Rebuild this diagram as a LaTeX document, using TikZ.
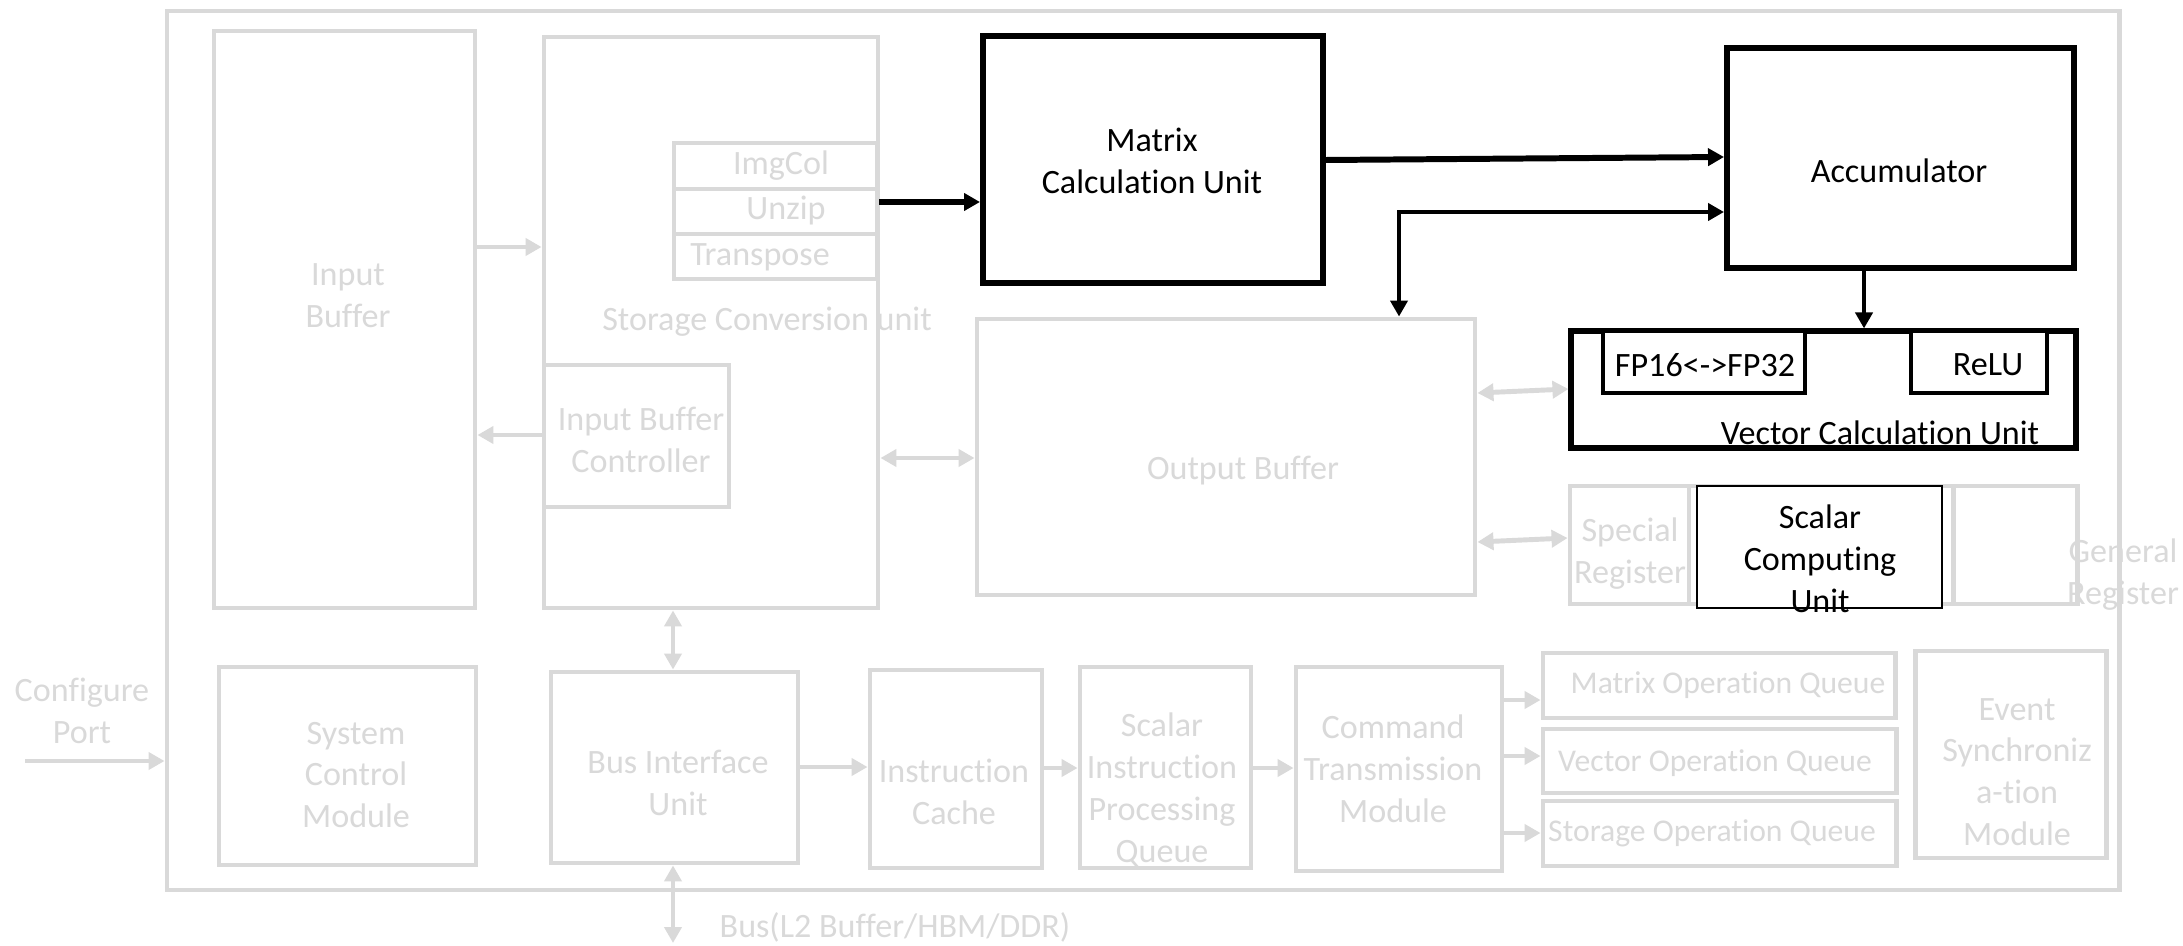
\documentclass[tikz,border=0pt]{standalone}
\usepackage{fontspec}
\setmainfont{Carlito}[Ligatures=NoCommon]
\usetikzlibrary{arrows.meta,fit}
\definecolor{lg}{HTML}{D9D9D9}
\begin{document}
\begin{tikzpicture}[x=0.01cm, y=-0.01cm, font=\fontsize{9.7}{11.9}\selectfont,
  gbox/.style={draw=lg, line width=1.4pt, inner sep=0pt, fill=white},
  bbox/.style={draw=black, line width=1.7pt, inner sep=0pt, fill=white},
  thinbox/.style={draw=black, line width=0.5pt, inner sep=0pt, fill=white},
  gtxt/.style={text=lg, align=center, inner sep=0pt},
  qtxt/.style={gtxt, font=\fontsize{9}{11}\selectfont},
  btxt/.style={text=black, align=center, inner sep=0pt},
  gtip/.tip={Triangle[length=0.16cm,width=0.17cm]},
  btip/.tip={Triangle[length=0.16cm,width=0.17cm]},
  garr/.style={draw=lg, line width=1.4pt, -gtip},
  gdarr/.style={draw=lg, line width=1.4pt, gtip-gtip},
  barr/.style={draw=black, line width=1.5pt, -btip},
  bdarr/.style={draw=black, line width=1.15pt, btip-btip}]
\useasboundingbox (0,0) rectangle (2183,946);

% outer frame
\node[gbox, fit={(167,11)(2119,890)}] (frame) {};

% upper left
\node[gbox, fit={(214,31)(475,608)}] (ib) {};
\node[gbox, fit={(544,37)(878,608)}] (scu) {};
\node[gbox, fit={(674,143)(877,189)}] (imgcol) {};
\node[gbox, fit={(674,189)(877,234)}] (unzip) {};
\node[gbox, fit={(674,234)(877,279)}] (transp) {};
\node[gbox, fit={(544,365)(729,507)}] (ibc) {};

% compute
\node[bbox, fit={(983,36)(1323,283)}] (mcu) {};
\node[bbox, fit={(1727,48)(2074,268)}] (acc) {};
\node[gbox, fit={(977,319)(1475,595)}] (ob) {};
\node[bbox, line width=1.45pt, fit={(1571,331)(2076,448)}] (vcu) {};
\node[bbox, line width=1.3pt, fit={(1603,331)(1805,393)}] (fp) {};
\node[bbox, line width=1.3pt, fit={(1911,331)(2047,393)}] (relu) {};

% registers
\node[gbox, fit={(1570,486)(1689,604)}] (sreg) {};
\node[gbox, fit={(1689,486)(1953,604)}] (mreg) {};
\node[gbox, fit={(1953,486)(2077,604)}] (greg) {};
\node[thinbox, fit={(1697,486)(1942,608)}] (scal) {};

% bottom row
\node[gbox, fit={(219,667)(476,865)}] (scm) {};
\node[gbox, fit={(551,672)(798,863)}] (biu) {};
\node[gbox, fit={(870,670)(1042,868)}] (ic) {};
\node[gbox, fit={(1080,667)(1251,868)}] (sipq) {};
\node[gbox, fit={(1296,667)(1502,871)}] (ctm) {};
\node[gbox, fit={(1543,653)(1895,718)}] (moq) {};
\node[gbox, fit={(1543,729)(1896,793)}] (voq) {};
\node[gbox, fit={(1543,801)(1896,866)}] (soq) {};
\node[gbox, fit={(1915,651)(2106,858)}] (esm) {};

% texts
\node[gtxt] (tib) at (348,296) {Input\\Buffer};
\node[gtxt] (tscu) at (767,322) {Storage Conversion unit};
\node[gtxt] (timg) at (781,166) {ImgCol};
\node[gtxt] (tunz) at (786,211) {Unzip};
\node[gtxt] (ttra) at (760,257) {Transpose};
\node[gtxt] (tibc) at (641,440) {Input Buffer\\Controller};
\node[btxt] (tmcu) at (1152,161) {Matrix\\Calculation Unit};
\node[btxt] (tacc) at (1899,171) {Accumulator};
\node[btxt] (tfp) at (1705,365) {FP16<->FP32};
\node[btxt] (trelu) at (1988,365) {ReLU};
\node[btxt] (tvcu) at (1880,433) {Vector Calculation Unit};
\node[gtxt] (tob) at (1243,471) {Output Buffer};
\node[gtxt] (tsreg) at (1630,554) {Special\\Register};
\node[btxt] (tscal) at (1820,559) {Scalar\\Computing\\Unit};
\node[gtxt] (tgreg) at (2123,575) {General\\Register};
\node[gtxt] (tcp) at (82,711) {Configure\\Port};
\node[gtxt] (tscm) at (356,775) {System\\Control\\Module};
\node[gtxt] (tbiu) at (678,783) {Bus Interface\\Unit};
\node[gtxt] (tbus) at (895,927) {Bus(L2 Buffer/HBM/DDR)};
\node[gtxt] (tic) at (954,792) {Instruction\\Cache};
\node[gtxt] (tsipq) at (1162,790) {Scalar\\Instruction\\Processing\\Queue};
\node[gtxt] (tctm) at (1393,769) {Command\\Transmission\\Module};
\node[qtxt] (tmoq) at (1728,685) {Matrix Operation Queue};
\node[qtxt] (tvoq) at (1715,763) {Vector Operation Queue};
\node[qtxt] (tsoq) at (1712,833) {Storage Operation Queue};
\node[gtxt] (tesm) at (2017,772) {Event\\Synchroniz\\a-tion\\Module};

% gray connectors
\draw[garr] (ib.east |- 0,247) -- (scu.west |- 0,247);
\draw[garr] (ibc.west |- 0,435) -- (ib.east |- 0,435);
\draw[gdarr] (scu.east |- 0,458) -- (ob.west |- 0,458);
\draw[gdarr] (ob.east |- 0,393) -- (vcu.west |- 0,389);
\draw[gdarr] (ob.east |- 0,542) -- (sreg.west |- 0,538);
\coordinate (cp) at (25,761);
\draw[garr] (cp) -- (frame.west |- cp);
\draw[gdarr] (scu.south -| 673,0) -- (biu.north -| 673,0);
\coordinate (bus) at (673,943);
\draw[gdarr] (biu.south -| bus) -- (bus);
\draw[garr] (biu.east |- 0,767) -- (ic.west |- 0,767);
\draw[garr] (ic.east |- 0,768) -- (sipq.west |- 0,768);
\draw[garr] (sipq.east |- 0,768) -- (ctm.west |- 0,768);
\draw[garr] (ctm.east |- 0,700) -- (moq.west |- 0,700);
\draw[garr] (ctm.east |- 0,756) -- (voq.west |- 0,756);
\draw[garr] (ctm.east |- 0,833) -- (soq.west |- 0,833);

% black connectors
\draw[barr] (unzip.east |- 0,202) -- (mcu.west |- 0,202);
\draw[barr, line width=1.7pt] (mcu.east |- 0,160) -- (acc.west |- 0,157);
\draw[bdarr] (acc.west |- 0,212) -| (ob.north -| 1399,0);
\draw[barr, line width=1.2pt] (acc.south -| 1864,0) -- (vcu.north -| 1864,0);
\end{tikzpicture}
\end{document}
